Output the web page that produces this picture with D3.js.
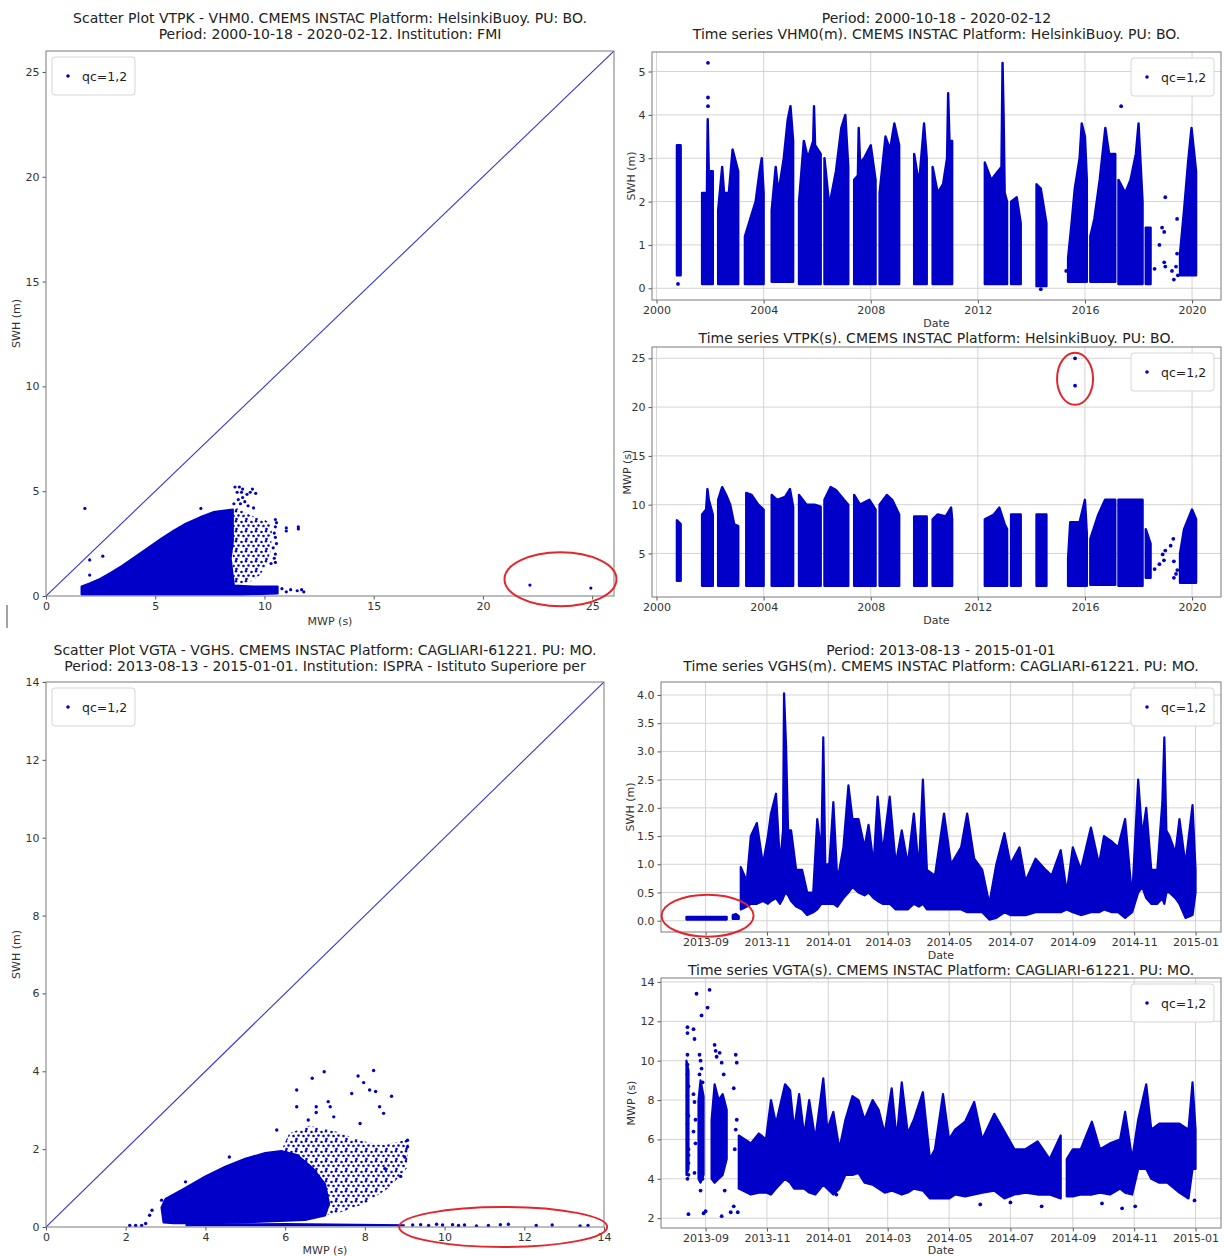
<!DOCTYPE html>
<html><head><meta charset="utf-8">
<script src="https://cdn.jsdelivr.net/npm/d3@7"></script>
<style>
body{margin:0;background:#fff;}
svg{display:block;font-family:"DejaVu Sans",sans-serif;}
</style></head><body>
<svg id="c" width="1224" height="1256"></svg>
<script>
// ================= DATA =================
const hkPeriod = ["2000-10-18","2020-02-12"];
const caPeriod = ["2013-08-13","2015-01-01"];
const legendLabel = "qc=1,2";

// ---- Helsinki scatter (MWP s, SWH m)
const hkScatterCore = [[1.63,0.08],[1.63,0.45],[2.0,0.6],[2.5,0.82],[3.0,1.12],[3.5,1.45],[4.0,1.8],[4.76,2.35],[5.3,2.75],[5.83,3.1],[6.4,3.45],[7.05,3.75],[7.66,4.0],[8.55,4.12],[8.55,2.6],[8.45,1.8],[8.6,0.5],[9.5,0.45],[10.6,0.45],[10.6,0.12],[9.0,0.08]];
const hkScatterSparse = [[8.55,4.12],[8.8,4.2],[9.1,4.0],[9.6,3.75],[10.0,3.65],[10.35,3.4],[10.3,2.2],[10.1,1.5],[9.8,1.0],[9.4,0.7],[8.55,0.5]];
const hkScatterPts = [[1.78,4.18],[2.0,1.72],[2.6,1.9],[2.0,1.0],[7.09,4.18],[8.65,5.2],[8.85,5.2],[9.0,5.1],[9.45,5.1],[9.35,4.95],[8.75,4.95],[8.95,4.95],[9.2,4.85],[9.6,4.9],[9.0,4.7],[8.8,4.6],[9.1,4.5],[8.9,4.4],[9.5,4.2],[8.6,4.4],[9.25,4.3],[10.5,3.65],[10.55,3.5],[10.5,3.3],[10.45,3.0],[10.5,2.8],[10.55,2.5],[10.4,2.3],[10.5,2.0],[10.45,1.8],[10.5,1.6],[10.3,1.55],[11.0,3.25],[11.0,3.1],[11.55,3.3],[11.55,3.2],[10.8,0.35],[11.0,0.2],[11.2,0.3],[11.5,0.25],[11.7,0.3],[11.8,0.2],[22.15,0.52],[24.94,0.38]];

// ---- Helsinki SWH time series: blocks of [decimal year, top]
const hkSwhTops = [
 [[2000.76,3.3],[2000.9,3.3]],
 [[2001.7,2.2],[2001.88,2.2],[2001.91,3.9],[2001.95,2.7],[2002.1,2.7]],
 [[2002.3,1.8],[2002.45,2.8],[2002.52,2.2],[2002.7,2.2],[2002.84,3.2],[2003.05,2.7]],
 [[2003.3,1.2],[2003.45,1.5],[2003.7,2.0],[2003.85,2.7],[2003.93,3.0],[2004.0,2.2]],
 [[2004.3,1.8],[2004.45,2.8],[2004.55,2.2],[2004.75,3.0],[2004.9,3.9],[2005.0,4.2],[2005.1,3.4]],
 [[2005.32,2.0],[2005.5,3.4],[2005.65,3.0],[2005.85,3.4],[2005.88,4.2],[2005.92,3.3],[2006.13,3.1]],
 [[2006.27,3.0],[2006.45,1.9],[2006.7,2.7],[2006.9,3.7],[2007.05,4.0],[2007.16,2.8]],
 [[2007.38,2.5],[2007.52,2.6],[2007.55,3.7],[2007.6,2.9],[2007.75,3.0],[2008.0,3.3],[2008.18,2.5]],
 [[2008.33,2.2],[2008.55,3.5],[2008.72,3.2],[2008.88,3.8],[2009.06,3.3]],
 [[2009.62,3.1],[2009.8,2.4],[2009.99,3.8],[2010.09,3.0]],
 [[2010.31,2.8],[2010.5,2.2],[2010.7,2.4],[2010.85,3.0],[2010.89,4.5],[2010.94,3.4],[2011.04,3.4]],
 [[2012.26,2.9],[2012.5,2.5],[2012.75,2.7],[2012.88,2.8],[2012.92,5.2],[2012.96,4.0],[2013.0,2.2],[2013.09,2.0]],
 [[2013.24,2.0],[2013.45,2.1],[2013.6,1.5]],
 [[2014.19,2.4],[2014.35,2.3],[2014.56,1.5]],
 [[2015.37,0.7],[2015.5,1.5],[2015.62,2.3],[2015.8,3.0],[2015.88,3.8],[2016.0,3.5],[2016.07,2.5]],
 [[2016.2,1.2],[2016.35,1.6],[2016.55,2.5],[2016.76,3.7],[2016.9,3.1],[2017.13,3.1]],
 [[2017.25,2.5],[2017.5,2.2],[2017.7,2.5],[2017.9,3.1],[2018.0,3.8],[2018.15,2.0]],
 [[2018.27,1.4],[2018.45,1.4]],
 [[2019.55,0.8],[2019.7,1.8],[2019.85,2.9],[2019.98,3.7],[2020.15,2.7]]
];
const hkSwhBottoms = [0.3,0.1,0.1,0.1,0.15,0.1,0.1,0.1,0.1,0.1,0.1,0.1,0.1,0.05,0.15,0.15,0.1,0.1,0.3];
const hkSwhPts = [[2018.6,0.45],[2018.78,1.0],[2018.88,1.4],[2019.0,2.1],[2018.96,1.3],[2018.96,0.6],[2019.0,0.5],[2019.25,0.4],[2019.32,0.2],[2019.44,1.6],[2019.44,0.8],[2019.47,0.3],[2019.4,0.5],[2017.35,4.2],[2001.92,4.2],[2001.92,4.4],[2001.92,5.2],[2014.35,-0.02],[2000.8,0.1],[2015.3,0.4]];

// ---- Helsinki MWP time series: blocks of [decimal year, top]
const hkMwpTops = [
 [[2000.76,8.4],[2000.9,8.0]],
 [[2001.7,9.0],[2001.85,9.5],[2001.9,11.6],[2001.95,10.5],[2002.1,9.0]],
 [[2002.3,10.5],[2002.45,11.8],[2002.6,11.0],[2002.75,10.0],[2002.9,8.0],[2003.05,7.8]],
 [[2003.35,11.2],[2003.55,11.0],[2003.8,10.0],[2004.0,9.5]],
 [[2004.3,11.0],[2004.5,10.5],[2004.8,10.8],[2004.98,11.6],[2005.1,9.8]],
 [[2005.32,11.0],[2005.6,10.0],[2005.9,10.0],[2006.13,9.8]],
 [[2006.27,10.5],[2006.5,11.8],[2006.7,11.5],[2007.0,10.5],[2007.16,10.0]],
 [[2007.38,11.0],[2007.6,10.0],[2007.95,10.5],[2008.18,9.5]],
 [[2008.33,10.0],[2008.6,11.0],[2008.8,10.5],[2009.06,9.0]],
 [[2009.62,8.8],[2010.09,8.8]],
 [[2010.31,8.5],[2010.5,9.0],[2010.8,8.8],[2011.0,9.7],[2011.04,8.5]],
 [[2012.26,8.5],[2012.6,9.0],[2012.8,9.7],[2013.0,8.0],[2013.09,7.5]],
 [[2013.24,9.0],[2013.6,9.0]],
 [[2014.19,9.0],[2014.56,9.0]],
 [[2015.37,4.5],[2015.45,8.2],[2015.8,8.2],[2016.0,10.5],[2016.07,7.0]],
 [[2016.2,6.5],[2016.5,9.0],[2016.75,10.5],[2017.13,10.5]],
 [[2017.25,10.5],[2018.15,10.5]],
 [[2018.27,7.5],[2018.45,6.0]],
 [[2019.55,5.0],[2019.7,7.5],[2020.0,9.5],[2020.15,8.5]]
];
const hkMwpBottoms = [2.2,1.7,1.7,1.7,1.7,1.7,1.7,1.7,1.7,1.7,1.7,1.7,1.7,1.7,1.7,1.8,1.7,2.5,2.0];
const hkMwpPts = [[2015.63,25.0],[2015.63,22.2],[2018.6,3.4],[2018.78,3.9],[2018.9,4.9],[2019.0,5.3],[2019.32,2.5],[2019.3,6.5],[2019.4,2.9],[2019.32,4.2],[2019.45,3.3],[2019.2,5.8],[2018.95,4.3]];

// ---- Cagliari scatter (MWP s, SWH m)
const caScatterCore = [[2.95,0.12],[2.9,0.5],[3.0,0.72],[3.5,1.0],[4.0,1.3],[4.5,1.55],[5.0,1.75],[5.5,1.9],[5.9,1.95],[6.3,1.85],[6.7,1.5],[7.0,1.1],[7.1,0.6],[7.0,0.3],[6.5,0.18],[5.0,0.12],[4.0,0.1],[3.2,0.1]];
const caScatterSparse = [[5.9,1.95],[6.1,2.4],[6.6,2.6],[7.3,2.45],[7.8,2.25],[8.4,2.1],[9.1,2.25],[9.05,1.5],[8.6,1.0],[8.0,0.6],[7.3,0.35],[7.0,0.3],[7.1,0.6],[7.0,1.1],[6.7,1.5]];
const caScatterStrip = [[3.5,0.02],[3.5,0.09],[6.0,0.1],[9.0,0.07],[9.0,0.02]];
const caScatterPts = [[6.98,3.99],[8.22,4.02],[7.83,3.88],[6.68,3.82],[6.29,3.52],[7.97,3.71],[8.67,3.36],[7.08,3.22],[6.29,3.09],[6.78,3.09],[7.13,3.09],[6.78,2.94],[8.47,2.92],[7.67,3.43],[8.12,3.52],[8.27,3.48],[8.37,3.09],[7.22,2.83],[6.58,2.75],[7.88,2.66],[5.79,2.49],[9.07,2.23],[9.07,2.06],[4.6,1.8],[2.66,0.43],[2.6,0.3],[2.5,0.09],[3.5,1.16],[2.9,0.69],[8.9,1.3],[8.5,1.5],[9.0,1.8],[2.1,0.04],[2.25,0.04],[2.4,0.04],[9.2,0.05],[9.4,0.06],[9.6,0.04],[9.8,0.07],[9.95,0.05],[10.2,0.06],[10.35,0.04],[10.5,0.05],[10.8,0.03],[11.1,0.04],[11.4,0.06],[11.6,0.07],[12.3,0.04],[12.7,0.05],[13.4,0.03],[13.6,0.04]];

// ---- Cagliari SWH time series: [date, low, high]
const caSwhEarly = [["2013-08-13",0.02,0.07],["2013-09-22",0.02,0.07]];
const caSwhBump = [["2013-09-28",0.03,0.1],["2013-10-01",0.03,0.12],["2013-10-04",0.03,0.08]];
const caSwhEnvelope = [
["2013-10-06",0.2,0.95],["2013-10-12",0.25,0.7],["2013-10-16",0.3,1.5],["2013-10-22",0.3,1.73],["2013-10-28",0.35,1.0],
["2013-11-02",0.3,1.5],["2013-11-05",0.35,1.9],["2013-11-10",0.4,2.25],["2013-11-14",0.3,1.0],["2013-11-17",0.4,1.6],
["2013-11-18",0.45,4.03],["2013-11-20",0.5,3.1],["2013-11-22",0.45,1.6],["2013-11-25",0.35,1.6],["2013-11-30",0.25,0.9],
["2013-12-06",0.2,0.9],["2013-12-11",0.1,0.5],["2013-12-17",0.15,0.5],["2013-12-21",0.2,1.8],["2013-12-25",0.3,1.2],
["2013-12-27",0.3,3.25],["2013-12-29",0.3,1.0],["2014-01-02",0.3,1.0],["2014-01-06",0.3,2.1],["2014-01-10",0.25,0.7],
["2014-01-16",0.4,1.3],["2014-01-21",0.5,2.4],["2014-01-25",0.6,1.8],["2014-01-31",0.5,1.8],["2014-02-06",0.45,1.3],
["2014-02-10",0.5,1.7],["2014-02-15",0.4,1.0],["2014-02-19",0.35,2.2],["2014-02-24",0.3,1.2],["2014-03-03",0.3,2.2],
["2014-03-09",0.2,1.0],["2014-03-15",0.2,1.6],["2014-03-21",0.2,1.0],["2014-03-27",0.3,1.9],["2014-04-01",0.25,0.9],
["2014-04-05",0.3,2.5],["2014-04-09",0.2,0.9],["2014-04-17",0.2,0.8],["2014-04-26",0.2,1.9],["2014-05-03",0.2,1.0],
["2014-05-13",0.2,1.3],["2014-05-19",0.15,1.9],["2014-05-26",0.15,1.1],["2014-06-03",0.15,0.9],["2014-06-10",0.02,0.3],
["2014-06-17",0.05,1.0],["2014-06-25",0.15,1.55],["2014-07-01",0.1,1.0],["2014-07-10",0.1,1.3],["2014-07-16",0.1,0.7],
["2014-07-26",0.15,1.1],["2014-08-05",0.15,0.9],["2014-08-11",0.15,0.8],["2014-08-20",0.15,1.25],["2014-08-26",0.2,0.5],
["2014-09-01",0.15,1.3],["2014-09-09",0.1,0.9],["2014-09-19",0.15,1.65],["2014-09-27",0.15,1.0],["2014-10-02",0.2,1.5],
["2014-10-10",0.15,1.4],["2014-10-16",0.15,1.3],["2014-10-23",0.05,1.8],["2014-10-30",0.15,0.4],["2014-11-05",0.5,2.5],
["2014-11-09",0.6,1.5],["2014-11-13",0.4,2.0],["2014-11-18",0.3,0.9],["2014-11-24",0.3,0.9],["2014-11-29",0.4,2.1],
["2014-12-01",0.3,3.25],["2014-12-03",0.5,1.6],["2014-12-06",0.5,1.5],["2014-12-12",0.4,1.2],["2014-12-16",0.3,1.8],
["2014-12-22",0.05,1.0],["2014-12-29",0.1,2.05],["2015-01-01",0.5,0.9]
];

// ---- Cagliari MWP time series
const caMwpEarlyPts = [["2013-08-14",11.7],["2013-08-14",10.3],["2013-08-14",9.8],["2013-08-14",9.3],["2013-08-14",8.2],["2013-08-14",7.3],["2013-08-14",6.8],["2013-08-14",6.0],["2013-08-15",5.5],["2013-08-15",4.8],["2013-08-14",4.0],["2013-08-15",2.2],["2013-08-14",11.4],["2013-08-15",8.7],["2013-08-15",7.2],["2013-08-15",5.2],["2013-08-15",4.2],["2013-08-20",11.6],["2013-08-21",11.1],["2013-08-20",8.3],["2013-08-21",7.9],["2013-08-22",7.0],["2013-08-20",6.4],["2013-08-22",5.8],["2013-08-21",4.3],["2013-08-23",13.4],["2013-08-26",10.3],["2013-08-27",10.0],["2013-08-28",9.6],["2013-08-26",9.3],["2013-08-29",8.9],["2013-08-27",3.4],["2013-08-29",4.0],["2013-08-28",12.3],["2013-08-30",2.25],["2013-09-01",2.35],["2013-09-03",12.7],["2013-09-05",13.6],["2013-09-10",10.8],["2013-09-11",10.5],["2013-09-12",10.2],["2013-09-15",10.4],["2013-09-17",9.9],["2013-09-19",9.3],["2013-09-17",2.1],["2013-09-20",3.4],["2013-09-26",2.3],["2013-09-29",2.6],["2013-09-29",8.6],["2013-10-01",10.3],["2013-10-02",9.9],["2013-10-02",7.0],["2013-10-01",6.5],["2013-09-30",5.5],["2013-10-03",2.3]];
const caMwpEarlyBand0 = [["2013-08-13",4.2,10.0],["2013-08-15",4.5,9.5]];
const caMwpEarlyBand1 = [["2013-08-25",4.0,8.0],["2013-08-27",3.8,9.0],["2013-08-30",4.2,8.2]];
const caMwpEarlyBand2 = [["2013-09-07",4.0,7.0],["2013-09-10",3.8,8.8],["2013-09-14",4.0,8.0],["2013-09-18",4.2,8.3],["2013-09-22",5.0,7.5]];
const caMwpEnvelope = [
["2013-10-04",3.5,6.2],["2013-10-16",3.2,5.8],["2013-10-24",3.3,6.3],["2013-10-31",3.3,6.0],["2013-11-05",3.2,8.0],
["2013-11-10",3.5,6.8],["2013-11-19",4.0,8.8],["2013-11-24",3.8,8.5],["2013-11-28",3.5,6.5],["2013-12-03",3.5,8.3],
["2013-12-08",3.5,6.2],["2013-12-13",3.3,8.0],["2013-12-19",3.2,6.0],["2013-12-27",3.7,9.1],["2013-12-31",3.5,6.5],
["2014-01-06",3.2,7.4],["2014-01-12",3.5,5.5],["2014-01-18",4.2,7.0],["2014-01-25",4.2,8.2],["2014-01-31",4.3,8.0],
["2014-02-06",3.8,7.0],["2014-02-14",3.7,8.0],["2014-02-20",3.5,7.5],["2014-02-26",3.3,6.3],["2014-03-05",3.4,8.6],
["2014-03-10",3.3,6.0],["2014-03-15",3.2,8.9],["2014-03-21",3.3,6.3],["2014-03-27",3.5,7.0],["2014-04-05",3.4,8.4],
["2014-04-12",3.0,5.0],["2014-04-17",3.0,5.5],["2014-04-25",3.0,8.3],["2014-05-01",3.0,6.0],["2014-05-07",3.2,6.5],
["2014-05-17",3.1,6.9],["2014-05-26",3.2,7.9],["2014-06-03",3.3,6.0],["2014-06-15",3.4,7.3],["2014-06-25",3.0,6.4],
["2014-07-05",3.2,5.5],["2014-07-16",3.3,5.5],["2014-07-28",3.2,5.9],["2014-08-09",3.2,5.0],["2014-08-20",3.0,6.2],
["2014-08-22",null,null],["2014-08-26",3.1,5.0],["2014-09-01",3.1,5.5],["2014-09-09",3.2,5.5],["2014-09-20",3.2,6.9],
["2014-09-28",3.3,5.5],["2014-10-08",3.2,5.8],["2014-10-18",3.5,6.0],["2014-10-23",3.3,7.4],["2014-10-30",3.2,5.0],
["2014-11-05",4.5,7.0],["2014-11-13",4.5,8.8],["2014-11-18",4.0,6.5],["2014-11-26",3.8,6.8],["2014-12-04",3.8,6.8],
["2014-12-16",3.3,6.8],["2014-12-25",3.0,6.5],["2014-12-29",4.5,8.9],["2015-01-01",4.5,6.5]
];
const caMwpPts = [["2014-01-09",3.2],["2014-06-01",2.7],["2014-07-01",2.8],["2014-08-01",2.6],["2014-09-30",2.75],["2014-10-20",2.5],["2014-11-02",2.6],["2014-12-31",2.9]];

// axis ticks / limits
const hkScatterTicks = [0,5,10,15,20,25];
const caScatterTicks = [0,2,4,6,8,10,12,14];
const hkYears = [2000,2004,2008,2012,2016,2020];
const caMonths = ["2013-09-01","2013-11-01","2014-01-01","2014-03-01","2014-05-01","2014-07-01","2014-09-01","2014-11-01","2015-01-01"];
const hkSwhTicks = [0,1,2,3,4,5];
const hkMwpTicks = [5,10,15,20,25];
const caSwhTicks = [0,0.5,1,1.5,2,2.5,3,3.5,4];
const caMwpTicks = [2,4,6,8,10,12,14];
const lim = {p1:[0,26], p2:[-0.27,5.45], p3:[0.54,26.16], p4:[0,14], p5:[-0.2,4.23], p6:[1.5,14.2]};

// annotation (red ellipse) centres in data units
const ell1 = [23.55,0.8], ell3 = [2015.63,22.9], ell4 = [11.47,0.0], ell5 = ["2013-09-03",0.09];

// ================= DRAW =================
const svg = d3.select("#c");
const BLUE = "#0000c8";
const parse = d3.timeParse("%Y-%m-%d");
function yr(y){const a=Math.floor(y);const s=new Date(a,0,1),e=new Date(a+1,0,1);return new Date(+s+(y-a)*(e-s));}
function padded(p){const a=parse(p[0]),b=parse(p[1]);const m=(b-a)*0.05;return [new Date(+a-m),new Date(+b+m)];}

const defs = svg.append("defs");
const pat = defs.append("pattern").attr("id","sparse").attr("patternUnits","userSpaceOnUse").attr("width",10).attr("height",10);
[[1.5,2],[6,1.2],[3.5,6],[8.5,5.5],[6.5,9]].forEach(p=>pat.append("circle").attr("cx",p[0]).attr("cy",p[1]).attr("r",1.3).attr("fill",BLUE));

let clipN=0;
function panel(box,x,y,o){
  const id="clip"+(clipN++);
  defs.append("clipPath").attr("id",id).append("rect").attr("x",box.l).attr("y",box.t).attr("width",box.r-box.l).attr("height",box.b-box.t);
  const g=svg.append("g");
  if(o.grid){
    g.append("g").selectAll("line").data(o.xTicks).join("line")
      .attr("x1",d=>x(d)).attr("x2",d=>x(d)).attr("y1",box.t).attr("y2",box.b).attr("stroke","#cfcfcf").attr("stroke-width",0.9);
    g.append("g").selectAll("line").data(o.yTicks).join("line")
      .attr("y1",d=>y(d)).attr("y2",d=>y(d)).attr("x1",box.l).attr("x2",box.r).attr("stroke","#cfcfcf").attr("stroke-width",0.9);
  }
  const data=g.append("g").attr("clip-path",`url(#${id})`);
  const xa=g.append("g").attr("transform",`translate(0,${box.b})`)
    .call(d3.axisBottom(x).tickValues(o.xTicks).tickFormat(o.xFmt).tickSize(3.5).tickPadding(3));
  const ya=g.append("g").attr("transform",`translate(${box.l},0)`)
    .call(d3.axisLeft(y).tickValues(o.yTicks).tickFormat(o.yFmt).tickSize(3.5).tickPadding(3));
  [xa,ya].forEach(a=>{a.select(".domain").remove();
    a.selectAll("text").attr("font-size",11).attr("fill","#333").attr("font-family","DejaVu Sans");
    a.selectAll("line").attr("stroke","#555");});
  g.append("rect").attr("x",box.l).attr("y",box.t).attr("width",box.r-box.l).attr("height",box.b-box.t)
    .attr("fill","none").attr("stroke","#7a7a7a").attr("stroke-width",1);
  g.append("text").attr("x",(box.l+box.r)/2).attr("y",box.b+o.xLabOff).attr("text-anchor","middle")
    .attr("font-size",11).attr("fill","#333").text(o.xLabel);
  g.append("text").attr("transform",`translate(${o.yLabX},${(box.t+box.b)/2}) rotate(-90)`).attr("dy","0.35em")
    .attr("text-anchor","middle").attr("font-size",11).attr("fill","#333").text(o.yLabel);
  o.titles.forEach(t=>g.append("text").attr("x",(box.l+box.r)/2).attr("y",t[1]).attr("text-anchor","middle")
    .attr("font-size",14).attr("fill","#222").text(t[0]));
  const lx=o.legendRight? box.r-90 : box.l+6, ly=box.t+6;
  const lg=g.append("g");
  lg.append("rect").attr("x",lx).attr("y",ly).attr("width",83).attr("height",38).attr("rx",3)
    .attr("fill","#fff").attr("fill-opacity",0.9).attr("stroke","#d6d6d6");
  lg.append("circle").attr("cx",lx+16).attr("cy",ly+19).attr("r",1.8).attr("fill",BLUE);
  lg.append("text").attr("x",lx+30).attr("y",ly+23.5).attr("font-size",12.5).attr("fill","#222").text(legendLabel);
  return {g,data,lg};
}
function ellipse(g,cx,cy,rx,ry){
  g.append("ellipse").attr("cx",cx).attr("cy",cy).attr("rx",rx).attr("ry",ry)
   .attr("fill","none").attr("stroke","#e3262b").attr("stroke-width",2);
}
function poly(sel,pts,x,y,fill){
  sel.append("path").attr("d",d3.line().x(d=>x(d[0])).y(d=>y(d[1]))(pts)+"Z")
    .attr("fill",fill).attr("stroke",fill==="url(#sparse)"?"none":BLUE).attr("stroke-width",2.2).attr("stroke-linejoin","round");
}
function dots(sel,pts,fx,fy,r){
  sel.append("g").selectAll("circle").data(pts).join("circle")
    .attr("cx",fx).attr("cy",fy).attr("r",r).attr("fill",BLUE);
}

// ---------- Panel 1: Helsinki scatter
{
  const box={l:46,r:614,t:51,b:596};
  const x=d3.scaleLinear().domain(lim.p1).range([box.l,box.r]);
  const y=d3.scaleLinear().domain(lim.p1).range([box.b,box.t]);
  const p=panel(box,x,y,{xTicks:hkScatterTicks,yTicks:hkScatterTicks,xFmt:d3.format("d"),yFmt:d3.format("d"),
    xLabel:"MWP (s)",yLabel:"SWH (m)",xLabOff:29,yLabX:16,
    titles:[["Scatter Plot VTPK - VHM0. CMEMS INSTAC Platform: HelsinkiBuoy. PU: BO.",23],["Period: 2000-10-18 - 2020-02-12. Institution: FMI",39]]});
  p.data.append("line").attr("x1",x(lim.p1[0])).attr("y1",y(lim.p1[0])).attr("x2",x(lim.p1[1])).attr("y2",y(lim.p1[1]))
    .attr("stroke","#3434e0").attr("stroke-width",1.1);
  poly(p.data,hkScatterSparse,x,y,"url(#sparse)");
  poly(p.data,hkScatterCore,x,y,BLUE);
  dots(p.data,hkScatterPts,d=>x(d[0]),d=>y(d[1]),1.6);
  ellipse(svg,x(ell1[0]),y(ell1[1]),56,27);
}
// ---------- Panel 2: Helsinki SWH
{
  const box={l:652,r:1221,t:52,b:300};
  const x=d3.scaleTime().domain(padded(hkPeriod)).range([box.l,box.r]);
  const y=d3.scaleLinear().domain(lim.p2).range([box.b,box.t]);
  const p=panel(box,x,y,{grid:true,xTicks:hkYears.map(v=>new Date(v,0,1)),yTicks:hkSwhTicks,xFmt:d3.timeFormat("%Y"),yFmt:d3.format("d"),
    xLabel:"Date",yLabel:"SWH (m)",xLabOff:27,yLabX:631,legendRight:true,
    titles:[["Period: 2000-10-18 - 2020-02-12",23],["Time series VHM0(m). CMEMS INSTAC Platform: HelsinkiBuoy. PU: BO.",39]]});
  hkSwhTops.forEach((blk,i)=>{
    const a=d3.area().x(d=>x(yr(d[0]))).y0(y(hkSwhBottoms[i])).y1(d=>y(d[1]));
    p.data.append("path").attr("d",a(blk)).attr("fill",BLUE).attr("stroke",BLUE).attr("stroke-width",2.4).attr("stroke-linejoin","round");
  });
  dots(p.data,hkSwhPts,d=>x(yr(d[0])),d=>y(d[1]),1.9);
}
// ---------- Panel 3: Helsinki MWP
{
  const box={l:652,r:1221,t:347,b:597};
  const x=d3.scaleTime().domain(padded(hkPeriod)).range([box.l,box.r]);
  const y=d3.scaleLinear().domain(lim.p3).range([box.b,box.t]);
  const p=panel(box,x,y,{grid:true,xTicks:hkYears.map(v=>new Date(v,0,1)),yTicks:hkMwpTicks,xFmt:d3.timeFormat("%Y"),yFmt:d3.format("d"),
    xLabel:"Date",yLabel:"MWP (s)",xLabOff:27,yLabX:627,legendRight:true,
    titles:[["Time series VTPK(s). CMEMS INSTAC Platform: HelsinkiBuoy. PU: BO.",343]]});
  hkMwpTops.forEach((blk,i)=>{
    const a=d3.area().x(d=>x(yr(d[0]))).y0(y(hkMwpBottoms[i])).y1(d=>y(d[1]));
    p.data.append("path").attr("d",a(blk)).attr("fill",BLUE).attr("stroke",BLUE).attr("stroke-width",2.4).attr("stroke-linejoin","round");
  });
  dots(p.data,hkMwpPts,d=>x(yr(d[0])),d=>y(d[1]),1.9);
  ellipse(svg,x(yr(ell3[0])),y(ell3[1]),18,26);
}
// ---------- Panel 4: Cagliari scatter
{
  const box={l:46,r:604,t:682,b:1227};
  const x=d3.scaleLinear().domain(lim.p4).range([box.l,box.r]);
  const y=d3.scaleLinear().domain(lim.p4).range([box.b,box.t]);
  const p=panel(box,x,y,{xTicks:caScatterTicks,yTicks:caScatterTicks,xFmt:d3.format("d"),yFmt:d3.format("d"),
    xLabel:"MWP (s)",yLabel:"SWH (m)",xLabOff:27,yLabX:16,
    titles:[["Scatter Plot VGTA - VGHS. CMEMS INSTAC Platform: CAGLIARI-61221. PU: MO.",655],["Period: 2013-08-13 - 2015-01-01. Institution: ISPRA - Istituto Superiore per",671]]});
  p.data.append("line").attr("x1",x(lim.p4[0])).attr("y1",y(lim.p4[0])).attr("x2",x(lim.p4[1])).attr("y2",y(lim.p4[1]))
    .attr("stroke","#3434e0").attr("stroke-width",1.1);
  poly(p.data,caScatterSparse,x,y,"url(#sparse)");
  poly(p.data,caScatterCore,x,y,BLUE);
  p.data.append("path").attr("d",d3.line().x(d=>x(d[0])).y(d=>y(d[1]))(caScatterStrip)+"Z").attr("fill",BLUE);
  dots(p.data,caScatterPts,d=>x(d[0]),d=>y(d[1]),1.7);
  ellipse(svg,x(ell4[0]),y(ell4[1]),104,20);
}
// ---------- Panel 5: Cagliari SWH
{
  const box={l:661,r:1221,t:682,b:932};
  const x=d3.scaleTime().domain(padded(caPeriod)).range([box.l,box.r]);
  const y=d3.scaleLinear().domain(lim.p5).range([box.b,box.t]);
  const p=panel(box,x,y,{grid:true,xTicks:caMonths.map(parse),yTicks:caSwhTicks,xFmt:d3.timeFormat("%Y-%m"),yFmt:d3.format(".1f"),
    xLabel:"Date",yLabel:"SWH (m)",xLabOff:27,yLabX:630,legendRight:true,
    titles:[["Period: 2013-08-13 - 2015-01-01",655],["Time series VGHS(m). CMEMS INSTAC Platform: CAGLIARI-61221. PU: MO.",671]]});
  const a=d3.area().defined(d=>d[2]!=null).x(d=>x(parse(d[0]))).y0(d=>y(d[1])).y1(d=>y(d[2]));
  [caSwhEarly,caSwhBump,caSwhEnvelope].forEach(s=>
    p.data.append("path").attr("d",a(s)).attr("fill",BLUE).attr("stroke",BLUE).attr("stroke-width",2.2).attr("stroke-linejoin","round"));
  ellipse(svg,x(parse(ell5[0])),y(ell5[1]),46,21);
}
// ---------- Panel 6: Cagliari MWP
{
  const box={l:661,r:1221,t:978,b:1228};
  const x=d3.scaleTime().domain(padded(caPeriod)).range([box.l,box.r]);
  const y=d3.scaleLinear().domain(lim.p6).range([box.b,box.t]);
  const p=panel(box,x,y,{grid:true,xTicks:caMonths.map(parse),yTicks:caMwpTicks,xFmt:d3.timeFormat("%Y-%m"),yFmt:d3.format("d"),
    xLabel:"Date",yLabel:"MWP (s)",xLabOff:26,yLabX:631,legendRight:true,
    titles:[["Time series VGTA(s). CMEMS INSTAC Platform: CAGLIARI-61221. PU: MO.",975]]});
  const a=d3.area().defined(d=>d[2]!=null).x(d=>x(parse(d[0]))).y0(d=>y(d[1])).y1(d=>y(d[2]));
  [caMwpEarlyBand0,caMwpEarlyBand1,caMwpEarlyBand2,caMwpEnvelope].forEach(s=>
    p.data.append("path").attr("d",a(s)).attr("fill",BLUE).attr("stroke",BLUE).attr("stroke-width",2.2).attr("stroke-linejoin","round"));
  dots(p.data,caMwpEarlyPts,d=>x(parse(d[0])),d=>y(d[1]),1.9);
  dots(p.data,caMwpPts,d=>x(parse(d[0])),d=>y(d[1]),1.9);
}
svg.append("line").attr("x1",7).attr("x2",7).attr("y1",605).attr("y2",628).attr("stroke","#444").attr("stroke-width",1);
</script>
</body></html>
